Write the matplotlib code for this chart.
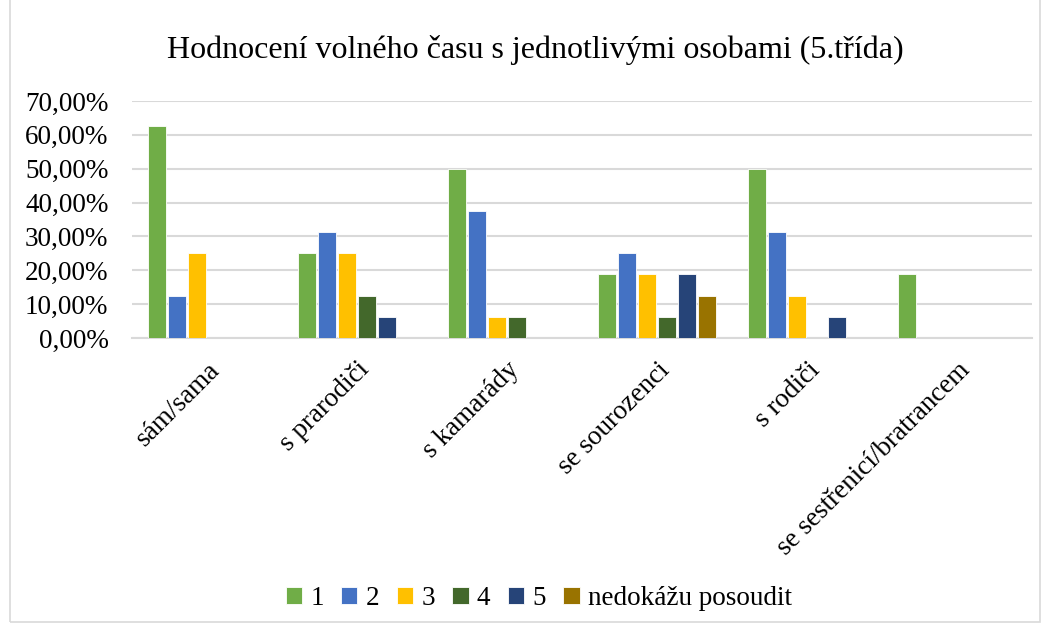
import matplotlib.pyplot as plt
import numpy as np
from matplotlib.patches import Rectangle

plt.rcParams['font.family'] = ['Liberation Serif', 'DejaVu Serif']

# --------------------------
# data
# --------------------------
categories = ["sám/sama", "s prarodiči", "s kamarády", "se sourozenci",
              "s rodiči", "se sestřenicí/bratrancem"]
series_names = ["1", "2", "3", "4", "5", "nedokážu posoudit"]
s1 = [0.625, 0.25, 0.50, 0.1875, 0.50, 0.1875]
s2 = [0.125, 0.3125, 0.375, 0.25, 0.3125, 0.0]
s3 = [0.25, 0.25, 0.0625, 0.1875, 0.125, 0.0]
s4 = [0.0, 0.125, 0.0625, 0.0625, 0.0, 0.0]
s5 = [0.0, 0.0625, 0.0, 0.1875, 0.0625, 0.0]
s6 = [0.0, 0.0, 0.0, 0.125, 0.0, 0.0]
y_ticks = [0.0, 0.1, 0.2, 0.3, 0.4, 0.5, 0.6, 0.7]

colors = ["#70AD47", "#4472C4", "#FFC000", "#43682B", "#264478", "#997300"]

fig = plt.figure(figsize=(10.46, 6.27), dpi=100)
# chart border like the Excel chart area
fig.patches.append(Rectangle((0.0096, 0.008), 0.985, 1.1, transform=fig.transFigure,
                             fill=False, edgecolor="#D9D9D9", linewidth=1.2))

ax = fig.add_axes([0.1262, 0.461, 0.8604, 0.378])
x = np.arange(len(categories))
pitch = 1 / 7.5
width = 0.118
all_series = [s1, s2, s3, s4, s5, s6]
for i, (vals, name) in enumerate(zip(all_series, series_names)):
    offs = (i - 2.5) * pitch
    ax.bar(x + offs, vals, width, color=colors[i], label=name,
           edgecolor="white", linewidth=0.6, zorder=3)

ax.set_xlim(-0.5, len(categories) - 0.5)
ax.set_ylim(0, 0.7)
ax.set_yticks(y_ticks)
ax.set_yticklabels([f"{v*100:.2f}%".replace(".", ",") for v in y_ticks], fontsize=19.5)
ax.yaxis.grid(True, color="#D9D9D9", linewidth=1.5, zorder=0)
ax.set_axisbelow(True)
for sp in ["top", "right", "left"]:
    ax.spines[sp].set_visible(False)
ax.spines["bottom"].set_color("#D9D9D9")
ax.spines["bottom"].set_linewidth(1.5)
ax.tick_params(axis="y", length=0, pad=17)
ax.tick_params(axis="x", length=0, pad=14)
ax.set_xticks(x)
ax.set_xticklabels(categories, rotation=45, ha="right", rotation_mode="anchor", fontsize=19.5)

fig.text(0.512, 0.92, "Hodnocení volného času s jednotlivými osobami (5.třída)",
         ha="center", va="center", fontsize=23)

fig.legend(loc="center", bbox_to_anchor=(0.515, 0.046), ncol=6, frameon=False,
           fontsize=19.5, handlelength=0.6, handleheight=0.6, handletextpad=0.3,
           columnspacing=0.65)

fig.savefig("out.png", dpi=100)
